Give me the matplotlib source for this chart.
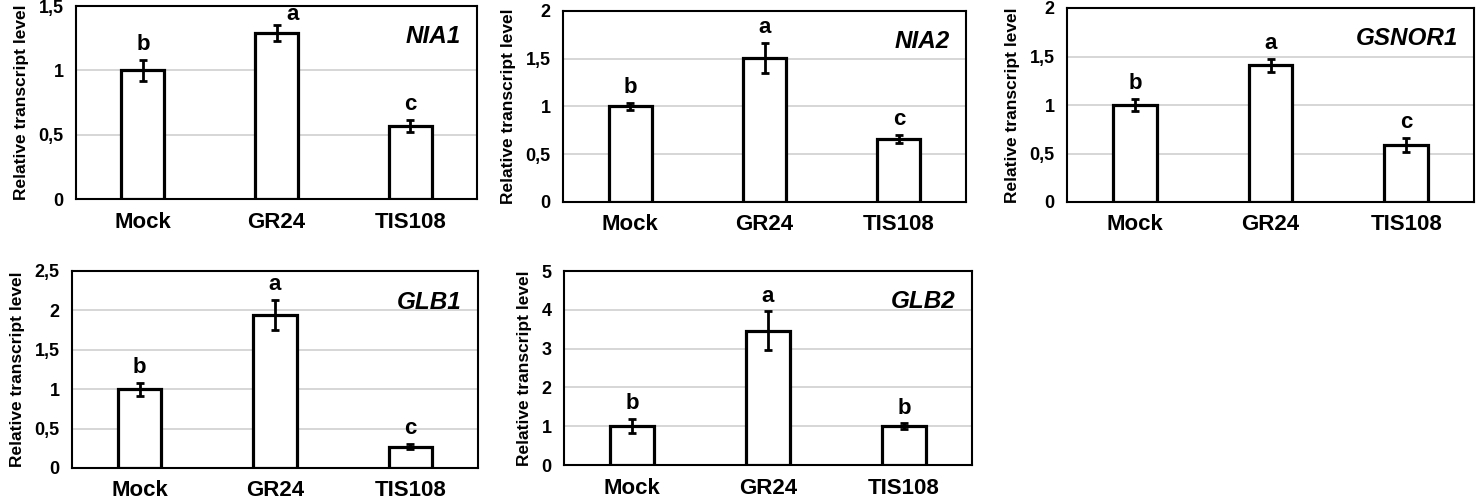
import matplotlib.pyplot as plt

plt.rcParams['font.family'] = ['Liberation Sans', 'DejaVu Sans']
plt.rcParams['font.weight'] = 'bold'

W, H = 1476, 499

# data per gene
treatments = ['Mock', 'GR24', 'TIS108']

genes = ['NIA1', 'NIA2', 'GSNOR1', 'GLB1', 'GLB2']

nia1_mean = [1.00, 1.29, 0.565]
nia1_err = [0.08, 0.065, 0.047]
nia1_letters = ['b', 'a', 'c']

nia2_mean = [1.00, 1.51, 0.66]
nia2_err = [0.04, 0.16, 0.045]
nia2_letters = ['b', 'a', 'c']

gsnor1_mean = [1.00, 1.41, 0.59]
gsnor1_err = [0.06, 0.065, 0.07]
gsnor1_letters = ['b', 'a', 'c']

glb1_mean = [1.00, 1.94, 0.27]
glb1_err = [0.08, 0.19, 0.03]
glb1_letters = ['b', 'a', 'c']

glb2_mean = [1.01, 3.46, 1.00]
glb2_err = [0.18, 0.50, 0.07]
glb2_letters = ['b', 'a', 'b']

y_max = [1.5, 2, 2, 2.5, 5]
y_step = [0.5, 0.5, 0.5, 0.5, 1]

# axes boxes in pixels: left, top, right, bottom
boxes = [
    (76, 6, 477, 199),
    (563, 11, 966, 202),
    (1067, 8, 1474, 202),
    (72, 271, 478, 468),
    (564, 271, 972, 465),
]

means = [nia1_mean, nia2_mean, gsnor1_mean, glb1_mean, glb2_mean]
errs = [nia1_err, nia2_err, gsnor1_err, glb1_err, glb2_err]
letters = [nia1_letters, nia2_letters, gsnor1_letters, glb1_letters, glb2_letters]

fig = plt.figure(figsize=(W / 100, H / 100), dpi=100)

for i, gene in enumerate(genes):
    l, t, r, b = boxes[i]
    ax = fig.add_axes([l / W, 1 - b / H, (r - l) / W, (b - t) / H])

    x = range(len(treatments))
    ax.bar(x, means[i], width=0.32, color='white', edgecolor='black',
           linewidth=2.3, zorder=3)
    ax.errorbar(x, means[i], yerr=errs[i], fmt='none', ecolor='black',
                elinewidth=2, capsize=2.8, capthick=2, zorder=4)

    ax.set_xlim(-0.5, 2.5)
    ax.set_ylim(0, y_max[i])
    ticks = []
    v = 0
    while v <= y_max[i] + 1e-9:
        ticks.append(round(v, 2))
        v += y_step[i]
    ax.set_yticks(ticks)
    ax.set_yticklabels([('%g' % tk).replace('.', ',') for tk in ticks])
    ax.yaxis.grid(True, color='#d0d0d0', linewidth=1.2, zorder=0)
    ax.set_axisbelow(True)

    ax.set_xticks(list(x))
    ax.set_xticklabels(treatments, fontsize=16, fontweight='bold')
    ax.tick_params(axis='x', length=0, pad=9)
    ax.tick_params(axis='y', length=0, pad=9, labelsize=13)
    for lab in ax.get_yticklabels():
        lab.set_fontweight('bold')

    for s in ax.spines.values():
        s.set_linewidth(1.5)
        s.set_color('black')

    ax.set_ylabel('Relative transcript level', fontsize=12.5, fontweight='bold',
                  labelpad=7)

    off = y_max[i] * 0.025
    for j in x:
        top = means[i][j] + errs[i][j]
        if top + off + y_max[i] * 0.12 > y_max[i]:
            # no room above: letter goes beside the cap
            ax.text(j + 0.12, top, letters[i][j], ha='center', va='bottom',
                    fontsize=16, fontweight='bold')
        else:
            ax.text(j, top + off, letters[i][j], ha='center', va='bottom',
                    fontsize=16, fontweight='bold')

    ax.text(0.96, 0.9, gene, transform=ax.transAxes, ha='right', va='top',
            fontsize=17.5, fontweight='bold', style='italic')

fig.savefig('out.png', dpi=100)
